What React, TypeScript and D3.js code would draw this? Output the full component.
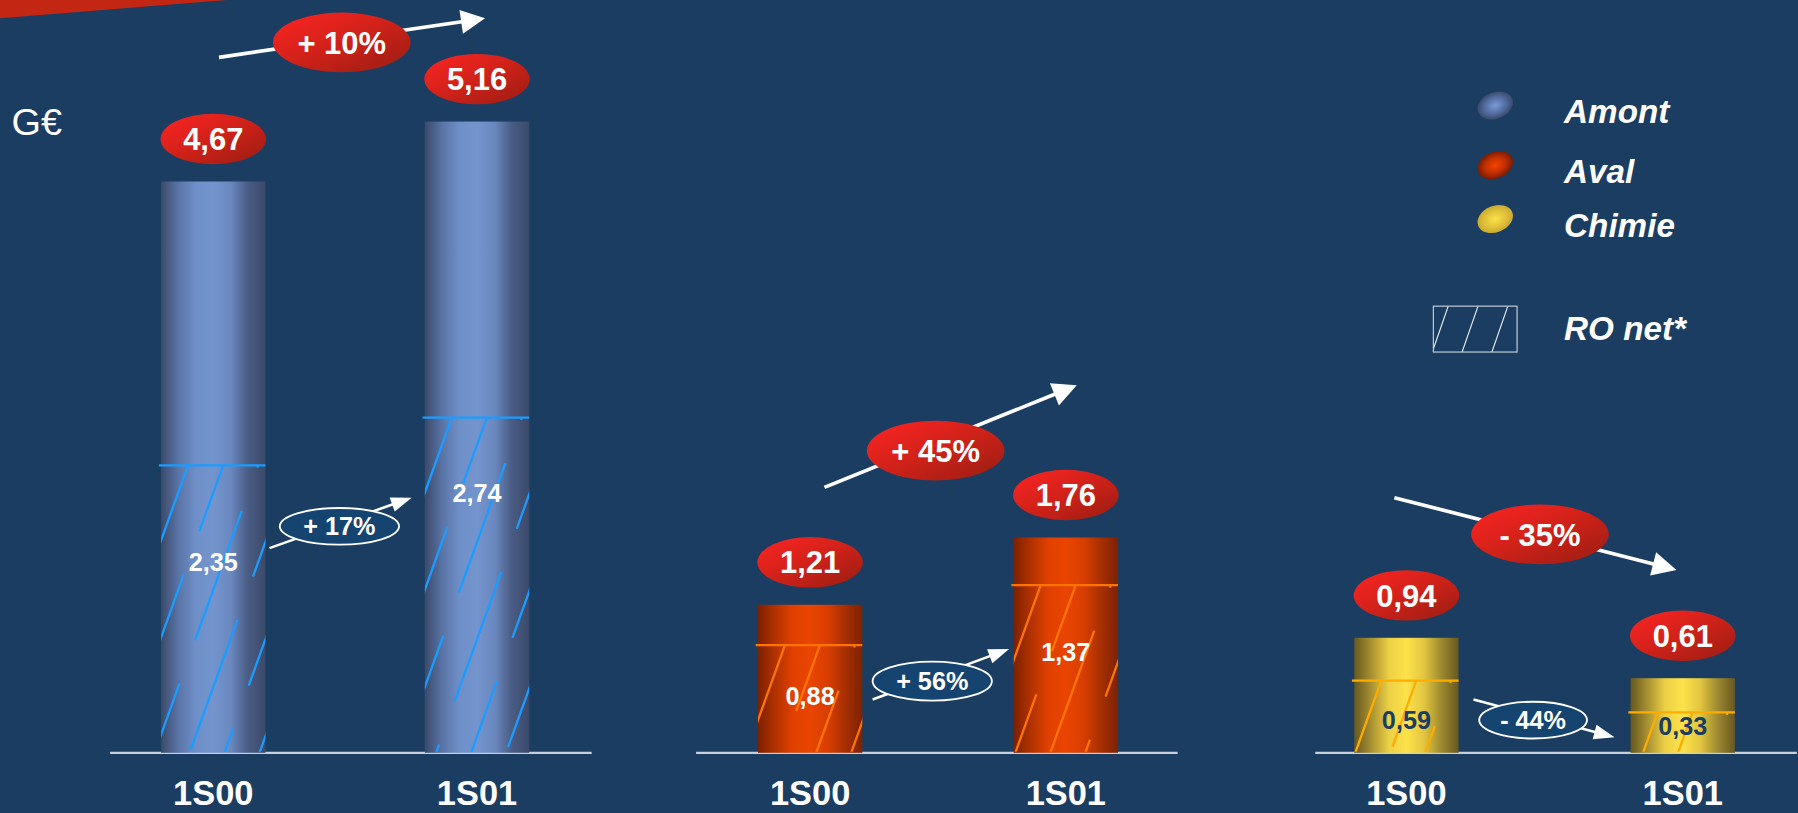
import React from "react";
import * as d3 from "d3";

// ---------- data ----------
const segments = ["Amont", "Aval", "Chimie"];
const periods = ["1S00", "1S01"];
const amontTotal = [4.67, 5.16];
const avalTotal = [1.21, 1.76];
const chimieTotal = [0.94, 0.61];
const amontRO = [2.35, 2.74];
const avalRO = [0.88, 1.37];
const chimieRO = [0.59, 0.33];
const totalChange = ["+ 10%", "+ 45%", "- 35%"];
const roChange = ["+ 17%", "+ 56%", "- 44%"];
const unitLabel = "G€";
const roLegendLabel = "RO net*";

// ---------- layout / styles ----------
const W = 1568;
const H = 709;
const FONT = "'Liberation Sans', Arial, Helvetica, sans-serif";
const BG = "#1b3d62";
const BAR_W = 91;

const totals = [amontTotal, avalTotal, chimieTotal];
const roNets = [amontRO, avalRO, chimieRO];

const styles = [
  {
    stops: ["#3b4a6a", "#5a74a6", "#6f8fc8", "#7494cd", "#6a88bf", "#4a5c84", "#3b4a6a"],
    hatch: "#1a9dff",
    innerText: "#ffffff",
    legend: ["#7b9bd6", "#5670a6", "#3a4a6c"],
  },
  {
    stops: ["#7c2000", "#b23200", "#e04000", "#ea4500", "#d83e00", "#a83000", "#7c2200"],
    hatch: "#ff7400",
    innerText: "#ffffff",
    legend: ["#f54400", "#c43000", "#7a1c00"],
  },
  {
    stops: ["#665820", "#a99232", "#ecd045", "#fde24a", "#e2c640", "#9e8a30", "#665820"],
    hatch: "#ffac00",
    innerText: "#1b3d62",
    legend: ["#fbe24a", "#e4c43a", "#c9aa32"],
  },
];

// annotation layout (arrow geometry)
const bigArrowLayout = [
  { x1: 191, y1: 50, x2: 423, y2: 16, ex: 298, ey: 37 },
  { x1: 719, y1: 425, x2: 939, y2: 336, ex: 816, ey: 393 },
  { x1: 1216, y1: 434, x2: 1462, y2: 497, ex: 1343, ey: 466 },
];
const smallArrowLayout = [
  { x1: 235, y1: 478, x2: 359, y2: 434, ex: 296, ey: 459, rx: 52, ry: 16 },
  { x1: 761, y1: 610, x2: 880, y2: 566, ex: 813, ey: 594, rx: 52, ry: 17 },
  { x1: 1285, y1: 610, x2: 1408, y2: 643, ex: 1337, ey: 628, rx: 47, ry: 16 },
];
const roLabelOffset = [
  [84, 66],
  [44, 58],
  [34, 12],
];

// ---------- scales ----------
const y = d3.scaleLinear().domain([0, 5.16]).range([656.5, 106]);
const groupCenter = d3.scaleOrdinal<string, number>().domain(segments).range([301, 818, 1347]);
const groupHalfGap = d3.scaleOrdinal<string, number>().domain(segments).range([115, 111.5, 120.5]);
const groupAxisStart = d3.scaleOrdinal<string, number>().domain(segments).range([96, 607, 1147]);
const AXIS_LEN = 420;
const periodSide = d3.scalePoint<string>().domain(periods).range([-1, 1]);

const barCenter = (g: string, p: string) => groupCenter(g) + (periodSide(p) as number) * groupHalfGap(g);

const fmt = (v: number) => v.toFixed(2).replace(".", ",");

function Arrow({ x1, y1, x2, y2, sw, hl, hw }: any) {
  const a = Math.atan2(y2 - y1, x2 - x1);
  const bx = x2 - hl * Math.cos(a);
  const by = y2 - hl * Math.sin(a);
  const px = -Math.sin(a) * (hw / 2);
  const py = Math.cos(a) * (hw / 2);
  return (
    <g>
      <line x1={x1} y1={y1} x2={bx + 2 * Math.cos(a)} y2={by + 2 * Math.sin(a)} stroke="#ffffff" strokeWidth={sw} />
      <polygon points={`${x2},${y2} ${bx + px},${by + py} ${bx - px},${by - py}`} fill="#ffffff" />
    </g>
  );
}

function Hatch({ id, xL, xR, yTop, yBase, color }: any) {
  const lines: any[] = [];
  const slope = 0.36;
  const h = yBase - yTop;
  for (let k = -12; k <= 5; k++) {
    const xt = xL + 25 + k * 30.5;
    const x1 = xt - slope * 2;
    const y1 = yTop - 2;
    const len = h + 12;
    const x2 = x1 - slope * len;
    const y2 = y1 + len;
    const off = ((k * 59) % 160 + 160) % 160;
    lines.push(
      <line
        key={k}
        x1={x1 + slope * 600}
        y1={y1 - 600}
        x2={x2}
        y2={y2}
        stroke={color}
        strokeWidth={2}
        strokeDasharray="120 40"
        strokeDashoffset={off}
      />
    );
  }
  return (
    <g>
      <clipPath id={id}>
        <rect x={xL} y={yTop} width={xR - xL} height={h} />
      </clipPath>
      <g clipPath={`url(#${id})`}>{lines}</g>
      <line x1={xL - 2} x2={xR} y1={yTop} y2={yTop} stroke={color} strokeWidth={2} />
    </g>
  );
}

export default function App() {
  const base = y(0);
  return (
    <svg
      width={1798}
      height={813}
      viewBox={`0 0 ${W} ${H}`}
      style={{ position: "absolute", left: 0, top: 0, display: "block" }}
      fontFamily={FONT}
    >
      <defs>
        {styles.map((s, i) => (
          <linearGradient key={i} id={`bar${i}`} x1="0" x2="1" y1="0" y2="0">
            {s.stops.map((c, j) => (
              <stop key={j} offset={j / (s.stops.length - 1)} stopColor={c} />
            ))}
          </linearGradient>
        ))}
        {styles.map((s, i) => (
          <radialGradient key={i} id={`leg${i}`} cx="0.5" cy="0.5" r="0.5">
            <stop offset="0" stopColor={s.legend[0]} />
            <stop offset="0.55" stopColor={s.legend[1]} />
            <stop offset="1" stopColor={s.legend[2]} />
          </radialGradient>
        ))}
        <linearGradient id="redEll" x1="0" y1="0" x2="1" y2="1">
          <stop offset="0" stopColor="#ff2424" />
          <stop offset="0.45" stopColor="#d4221a" />
          <stop offset="1" stopColor="#981d12" />
        </linearGradient>
      </defs>

      <rect x={0} y={0} width={W} height={H} fill={BG} />
      <polygon points="0,0 198,0 0,16" fill="#c42614" />

      <text x={10} y={118} fill="#ffffff" fontSize={33}>
        {unitLabel}
      </text>

      {segments.map((g, gi) => {
        const a0 = groupAxisStart(g);
        return (
          <g key={g}>
            <line x1={a0} x2={a0 + AXIS_LEN} y1={base} y2={base} stroke="#c9d0da" strokeWidth={2} />
            {periods.map((p, pi) => {
              const cx = barCenter(g, p);
              const xL = cx - BAR_W / 2;
              const xR = cx + BAR_W / 2;
              const tv = totals[gi][pi];
              const rv = roNets[gi][pi];
              const yT = y(tv);
              const yR = y(rv);
              return (
                <g key={p}>
                  <rect x={xL} y={yT} width={BAR_W} height={base - yT} fill={`url(#bar${gi})`} />
                  <Hatch id={`h${gi}${pi}`} xL={xL} xR={xR} yTop={yR} yBase={base - 1} color={styles[gi].hatch} />
                  <text
                    x={cx}
                    y={yR + roLabelOffset[gi][pi]}
                    dy="0.36em"
                    textAnchor="middle"
                    fontSize={22}
                    fontWeight="bold"
                    fill={styles[gi].innerText}
                  >
                    {fmt(rv)}
                  </text>
                  <ellipse cx={cx} cy={yT - 37} rx={46} ry={22} fill="url(#redEll)" />
                  <text x={cx} y={yT - 37} dy="0.36em" textAnchor="middle" fontSize={27} fontWeight="bold" fill="#ffffff">
                    {fmt(tv)}
                  </text>
                  <text x={cx} y={702} textAnchor="middle" fontSize={30} fontWeight="bold" fill="#ffffff">
                    {p}
                  </text>
                </g>
              );
            })}
            {(() => {
              const a = smallArrowLayout[gi];
              return (
                <g>
                  <Arrow x1={a.x1} y1={a.y1} x2={a.x2} y2={a.y2} sw={2.2} hl={18} hw={13} />
                  <ellipse cx={a.ex} cy={a.ey} rx={a.rx} ry={a.ry} fill="#154470" stroke="#ffffff" strokeWidth={1.6} />
                  <text x={a.ex} y={a.ey} dy="0.36em" textAnchor="middle" fontSize={22} fontWeight="bold" fill="#ffffff">
                    {roChange[gi]}
                  </text>
                </g>
              );
            })()}
            {(() => {
              const a = bigArrowLayout[gi];
              return (
                <g>
                  <Arrow x1={a.x1} y1={a.y1} x2={a.x2} y2={a.y2} sw={3.2} hl={21} hw={21} />
                  <ellipse cx={a.ex} cy={a.ey} rx={60} ry={26} fill="url(#redEll)" />
                  <text x={a.ex} y={a.ey} dy="0.36em" textAnchor="middle" fontSize={27} fontWeight="bold" fill="#ffffff">
                    {totalChange[gi]}
                  </text>
                </g>
              );
            })()}
          </g>
        );
      })}

      {/* legend */}
      {segments.map((g, i) => {
        const ly = [94, 146, 193][i];
        return (
          <g key={g}>
            <ellipse cx={1304} cy={ly - 2} rx={16} ry={11.5} transform={`rotate(-22 1304 ${ly - 2})`} fill={`url(#leg${i})`} />
            <text x={1364} y={ly + 3} dy="0.36em" fontSize={29} fontWeight="bold" fontStyle="italic" fill="#ffffff">
              {g}
            </text>
          </g>
        );
      })}
      <g>
        <clipPath id="legClip">
          <rect x={1250} y={267} width={73} height={40} />
        </clipPath>
        <g clipPath="url(#legClip)">
          {[0, 1, 2, 3].map((k) => (
            <line key={k} x1={1248 + k * 26} y1={310} x2={1264 + k * 26} y2={264} stroke="#e6ebf2" strokeWidth={1} />
          ))}
        </g>
        <rect x={1250} y={267} width={73} height={40} fill="none" stroke="#c9d0da" strokeWidth={1} />
        <text x={1364} y={286} dy="0.36em" fontSize={29} fontWeight="bold" fontStyle="italic" fill="#ffffff">
          {roLegendLabel}
        </text>
      </g>
    </svg>
  );
}
